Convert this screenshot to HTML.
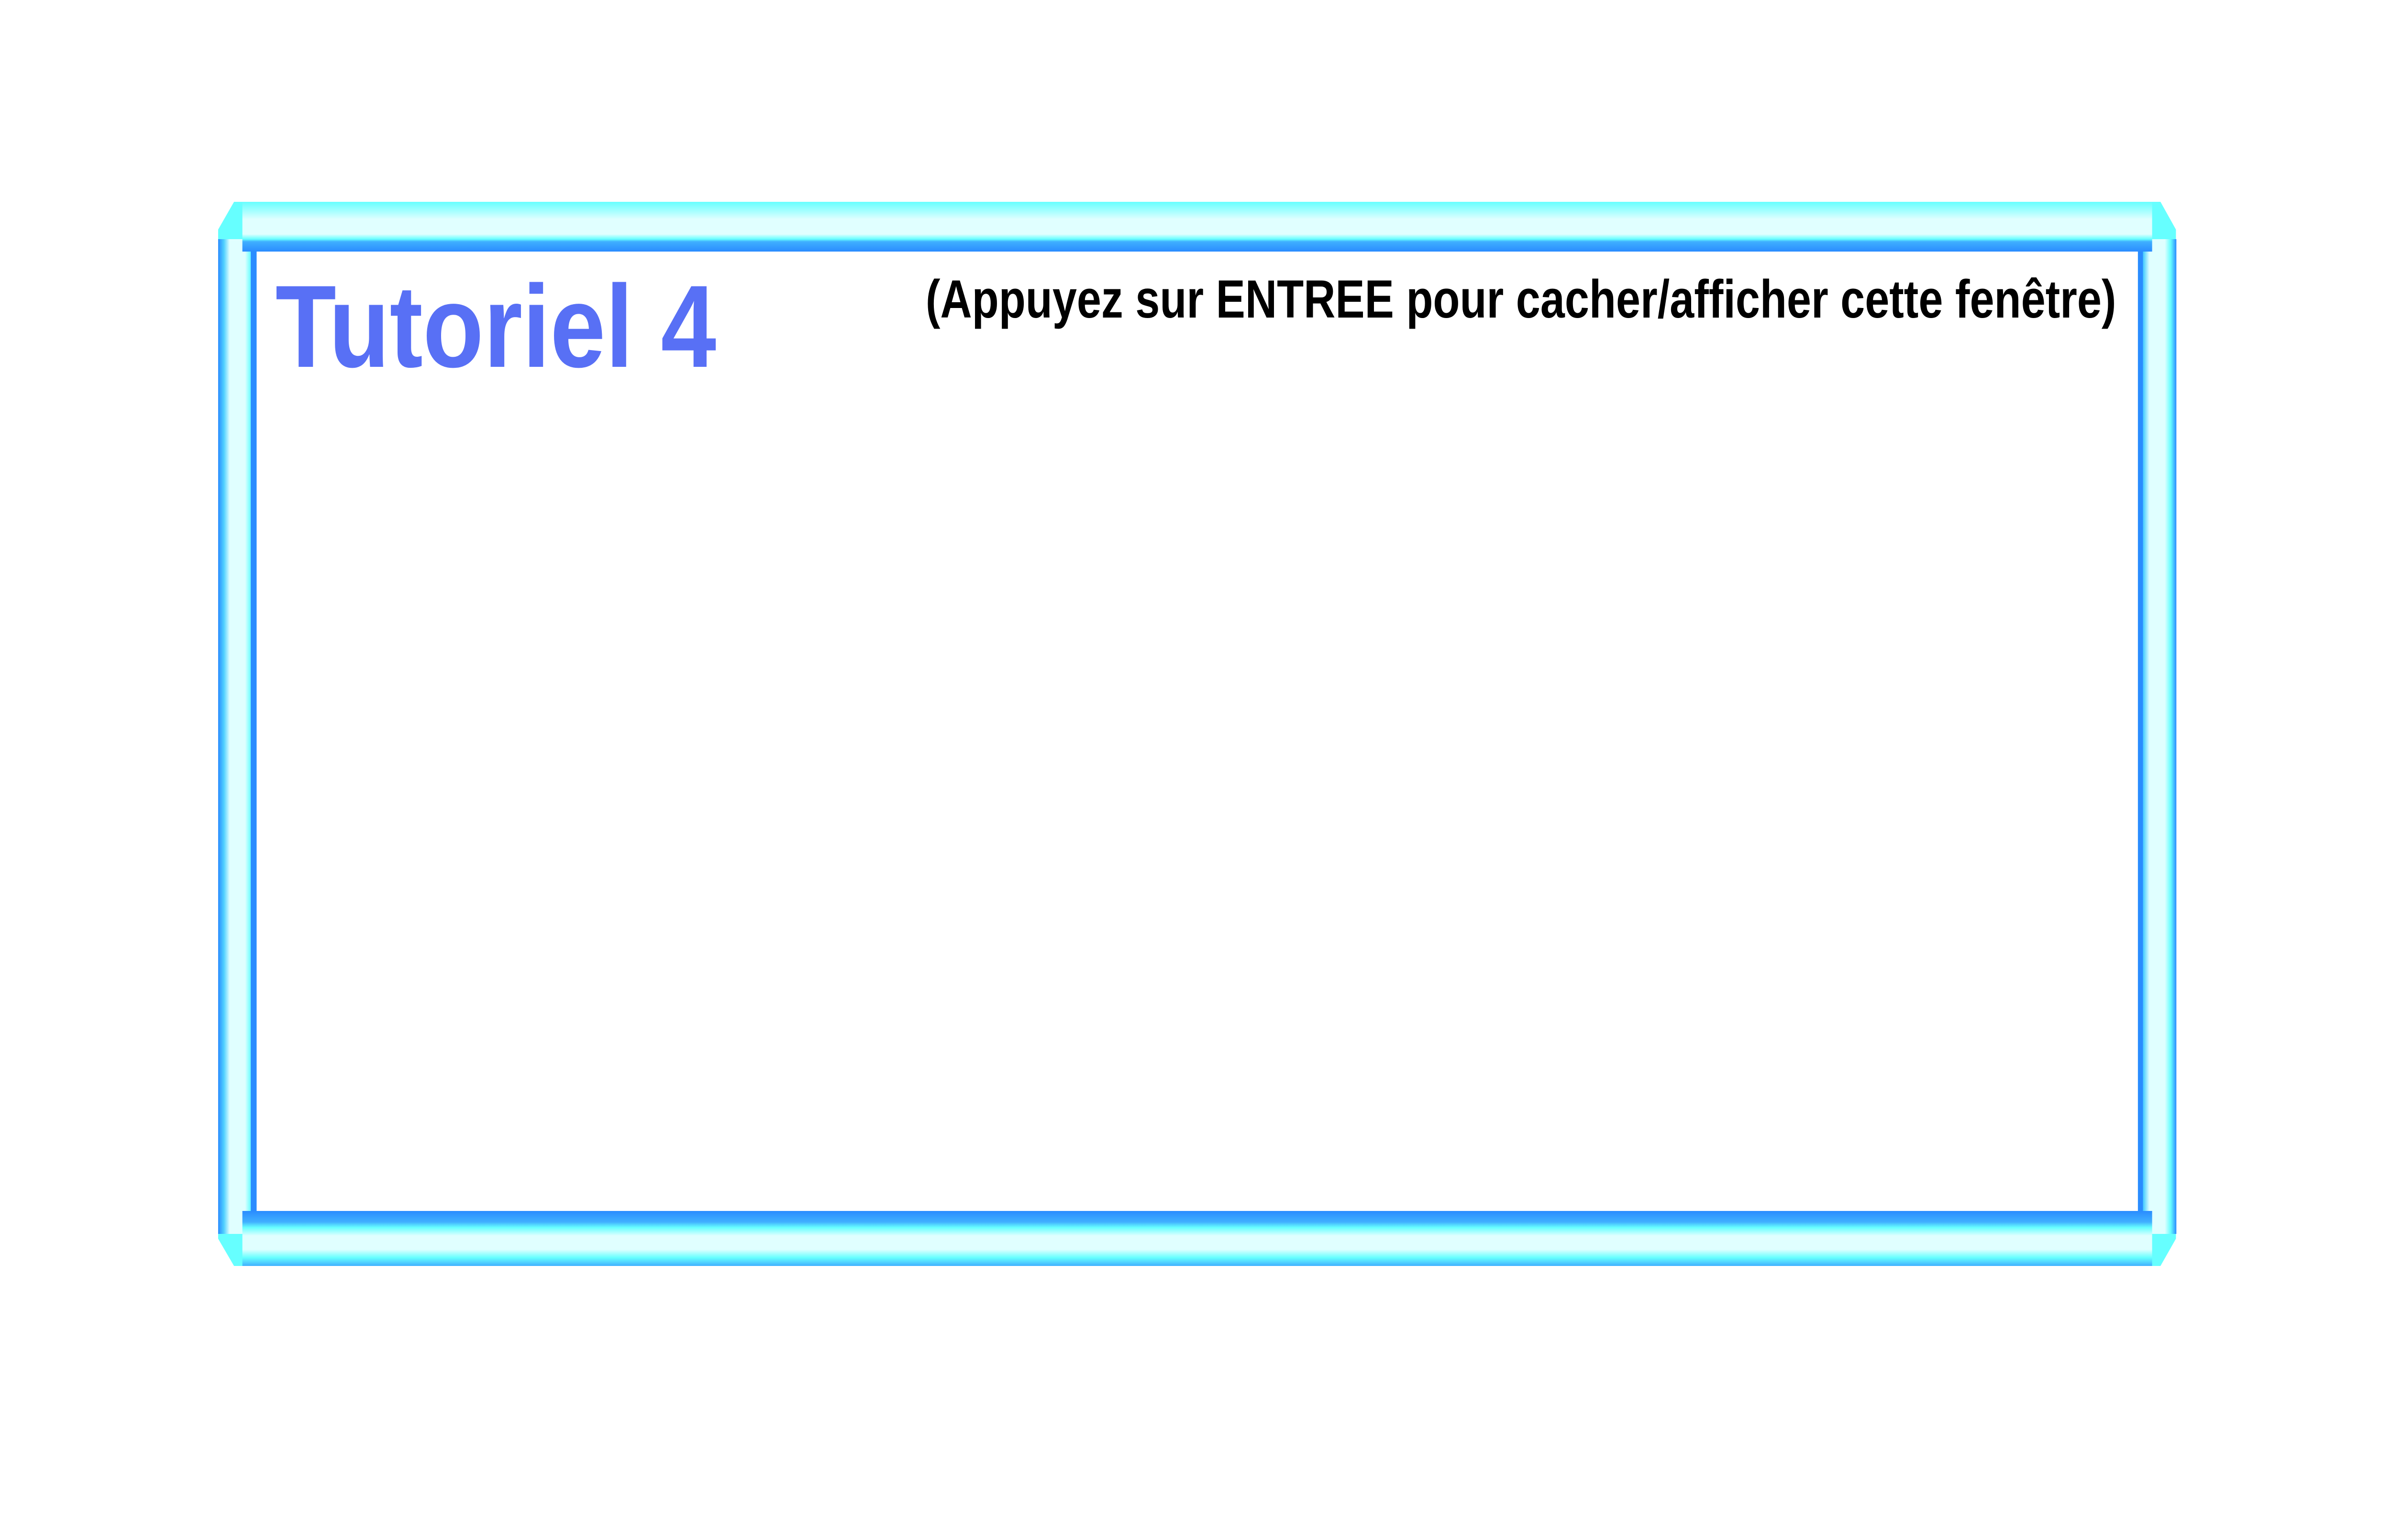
<!DOCTYPE html>
<html><head><meta charset="utf-8"><style>html,body{margin:0;padding:0;background:#fff;overflow:hidden;width:100%;height:100%}svg{display:block;position:fixed;left:0;top:0;width:100vw;height:100vh}</style></head>
<body>
<svg viewBox="0 0 5724 3220" preserveAspectRatio="none" xmlns="http://www.w3.org/2000/svg">
<defs>
<linearGradient id="gh" x1="0" y1="0" x2="0" y2="1">
<stop offset="0" stop-color="#66ffff"/><stop offset="0.2" stop-color="#aaffff"/>
<stop offset="0.35" stop-color="#e0ffff"/><stop offset="0.65" stop-color="#e0ffff"/>
<stop offset="0.75" stop-color="#66ffff"/><stop offset="0.8" stop-color="#40b0ff"/>
<stop offset="1" stop-color="#2a8cff"/></linearGradient>
<linearGradient id="gb" x1="0" y1="0" x2="0" y2="1">
<stop offset="0" stop-color="#2a8cff"/><stop offset="0.2" stop-color="#40b0ff"/>
<stop offset="0.3" stop-color="#66ffff"/><stop offset="0.45" stop-color="#e0ffff"/>
<stop offset="0.7" stop-color="#e0ffff"/><stop offset="0.85" stop-color="#66ffff"/>
<stop offset="1" stop-color="#40b0ff"/></linearGradient>
<linearGradient id="gv" x1="0" y1="0" x2="1" y2="0">
<stop offset="0" stop-color="#2a8cff"/><stop offset="0.15" stop-color="#50d0ff"/>
<stop offset="0.3" stop-color="#e0ffff"/><stop offset="0.7" stop-color="#e0ffff"/>
<stop offset="0.85" stop-color="#66ffff"/><stop offset="1" stop-color="#2a8cff"/></linearGradient>
</defs>
<path d="M560 422 L5170 422 L5207 480 L5207 2590 L5170 2647 L560 2647 L522 2590 L522 480 Z" fill="#66ffff"/>
<rect x="522" y="500" width="92" height="2080" fill="url(#gv)"/>
<rect x="5116" y="500" width="92" height="2080" fill="url(#gv)"/>
<rect x="580" y="422" width="4570" height="104" fill="url(#gh)"/>
<rect x="580" y="2532" width="4570" height="115" fill="url(#gb)"/>
<rect x="614" y="526" width="4502" height="2006" fill="#fff"/>
<rect x="600" y="526" width="14" height="2006" fill="#2a8cff"/>
<rect x="5116" y="526" width="12" height="2006" fill="#2a8cff"/>
<text x="659" y="767" font-family="Liberation Sans, sans-serif" font-weight="bold" font-size="245" fill="#5870f5" textLength="1055" lengthAdjust="spacingAndGlyphs">Tutoriel 4</text>
<text x="2215" y="664" font-family="Liberation Sans, sans-serif" font-weight="bold" font-size="112" fill="#000" textLength="2849" lengthAdjust="spacingAndGlyphs">(Appuyez sur ENTREE pour cacher/afficher cette fenêtre)</text>
</svg>
</body></html>
